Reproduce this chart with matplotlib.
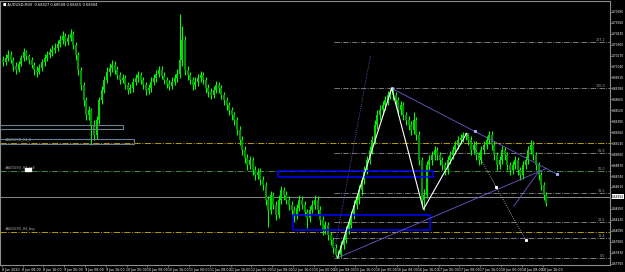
import numpy as np
import matplotlib.pyplot as plt
from matplotlib.patches import Rectangle

# ---- data (AUDUSD, one bar per hour, open = previous close) ----
closes = [
    0.7009, 0.7014, 0.7018, 0.7012, 0.7005, 0.7000, 0.7007, 0.7014, 0.7021, 0.7016,
    0.7012, 0.7006, 0.7000, 0.6998, 0.7002, 0.7009, 0.7014, 0.7018, 0.7021, 0.7024,
    0.7026, 0.7031, 0.7035, 0.7040, 0.7033, 0.7038, 0.7043, 0.7030, 0.7018, 0.7000,
    0.6982, 0.6964, 0.6946, 0.6952, 0.6935, 0.6923, 0.6940, 0.6964, 0.6976, 0.6988,
    0.6998, 0.7002, 0.7006, 0.7000, 0.6994, 0.6988, 0.6990, 0.6982, 0.6976, 0.6978,
    0.6986, 0.6990, 0.6994, 0.6988, 0.6982, 0.6976, 0.6978, 0.6986, 0.6990, 0.6995,
    0.7000, 0.6993, 0.6988, 0.6983, 0.6981, 0.6986, 0.6990, 0.6995, 0.7012, 0.7035,
    0.7000, 0.6994, 0.6988, 0.6982, 0.6986, 0.6990, 0.6994, 0.6988, 0.6978, 0.6974,
    0.6970, 0.6976, 0.6982, 0.6978, 0.6970, 0.6964, 0.6958, 0.6952, 0.6946, 0.6940,
    0.6929, 0.6917, 0.6905, 0.6895, 0.6887, 0.6893, 0.6881, 0.6875, 0.6879, 0.6869,
    0.6863, 0.6846, 0.6834, 0.6851, 0.6840, 0.6828, 0.6846, 0.6857, 0.6851, 0.6846,
    0.6840, 0.6834, 0.6828, 0.6836, 0.6846, 0.6840, 0.6831, 0.6824, 0.6834, 0.6840,
    0.6846, 0.6834, 0.6822, 0.6810, 0.6816, 0.6804, 0.6798, 0.6789, 0.6780, 0.6780,
    0.6792, 0.6798, 0.6810, 0.6816, 0.6828, 0.6840, 0.6846, 0.6857, 0.6869, 0.6881,
    0.6893, 0.6905, 0.6917, 0.6935, 0.6946, 0.6952, 0.6958, 0.6964, 0.6970, 0.6974,
    0.6970, 0.6964, 0.6952, 0.6958, 0.6946, 0.6940, 0.6935, 0.6929, 0.6940, 0.6923,
    0.6893, 0.6846, 0.6851, 0.6887, 0.6893, 0.6899, 0.6905, 0.6899, 0.6893, 0.6887,
    0.6881, 0.6893, 0.6899, 0.6905, 0.6911, 0.6917, 0.6919, 0.6923, 0.6925, 0.6917,
    0.6905, 0.6911, 0.6899, 0.6893, 0.6905, 0.6911, 0.6917, 0.6923, 0.6911, 0.6899,
    0.6887, 0.6893, 0.6905, 0.6899, 0.6887, 0.6881, 0.6887, 0.6893, 0.6881, 0.6875,
    0.6887, 0.6893, 0.6905, 0.6911, 0.6899, 0.6887, 0.6875, 0.6863, 0.6851, 0.6842,
]
highs = [
    0.7017, 0.7019, 0.7023, 0.7022, 0.7015, 0.7009, 0.7011, 0.7018, 0.7026, 0.7024,
    0.7019, 0.7015, 0.7009, 0.7004, 0.7007, 0.7013, 0.7019, 0.7022, 0.7026, 0.7029,
    0.7032, 0.7036, 0.7041, 0.7046, 0.7044, 0.7043, 0.7048, 0.7046, 0.7033, 0.7021,
    0.7003, 0.6986, 0.6968, 0.6957, 0.6955, 0.6940, 0.6945, 0.6968, 0.6981, 0.6993,
    0.7003, 0.7008, 0.7012, 0.7010, 0.7004, 0.6998, 0.6995, 0.6994, 0.6986, 0.6983,
    0.6990, 0.6995, 0.6999, 0.6998, 0.6992, 0.6986, 0.6983, 0.6991, 0.6995, 0.7000,
    0.7005, 0.7004, 0.6997, 0.6992, 0.6988, 0.6991, 0.6995, 0.7001, 0.7066, 0.7052,
    0.7040, 0.7004, 0.6998, 0.6992, 0.6991, 0.6995, 0.6999, 0.6998, 0.6992, 0.6983,
    0.6979, 0.6981, 0.6987, 0.6986, 0.6982, 0.6974, 0.6968, 0.6962, 0.6956, 0.6950,
    0.6944, 0.6933, 0.6921, 0.6910, 0.6900, 0.6898, 0.6897, 0.6886, 0.6884, 0.6883,
    0.6874, 0.6867, 0.6850, 0.6856, 0.6855, 0.6844, 0.6851, 0.6862, 0.6861, 0.6856,
    0.6850, 0.6844, 0.6838, 0.6841, 0.6851, 0.6850, 0.6844, 0.6835, 0.6839, 0.6845,
    0.6851, 0.6850, 0.6838, 0.6826, 0.6821, 0.6820, 0.6808, 0.6802, 0.6793, 0.6786,
    0.6797, 0.6803, 0.6815, 0.6821, 0.6833, 0.6845, 0.6852, 0.6863, 0.6874, 0.6886,
    0.6898, 0.6910, 0.6922, 0.6940, 0.6952, 0.6958, 0.6963, 0.6969, 0.6975, 0.6977,
    0.6978, 0.6974, 0.6968, 0.6963, 0.6962, 0.6950, 0.6945, 0.6939, 0.6950, 0.6944,
    0.6927, 0.6897, 0.6858, 0.6892, 0.6899, 0.6904, 0.6910, 0.6909, 0.6903, 0.6897,
    0.6891, 0.6898, 0.6904, 0.6910, 0.6916, 0.6922, 0.6924, 0.6926, 0.6925, 0.6925,
    0.6921, 0.6916, 0.6915, 0.6903, 0.6910, 0.6916, 0.6922, 0.6928, 0.6927, 0.6915,
    0.6903, 0.6898, 0.6910, 0.6909, 0.6903, 0.6891, 0.6892, 0.6898, 0.6897, 0.6885,
    0.6892, 0.6898, 0.6910, 0.6917, 0.6915, 0.6903, 0.6891, 0.6879, 0.6867, 0.6855,
]
lows = [
    0.7004, 0.7006, 0.7011, 0.7008, 0.6999, 0.6995, 0.6997, 0.7004, 0.7011, 0.7012,
    0.7007, 0.7002, 0.6994, 0.6992, 0.6995, 0.6999, 0.7005, 0.7010, 0.7014, 0.7017,
    0.7020, 0.7022, 0.7027, 0.7031, 0.7028, 0.7029, 0.7034, 0.7025, 0.7012, 0.6994,
    0.6976, 0.6957, 0.6940, 0.6940, 0.6911, 0.6917, 0.6918, 0.6936, 0.6960, 0.6972,
    0.6984, 0.6993, 0.6998, 0.6995, 0.6989, 0.6983, 0.6984, 0.6977, 0.6971, 0.6972,
    0.6974, 0.6982, 0.6986, 0.6983, 0.6977, 0.6970, 0.6971, 0.6974, 0.6982, 0.6986,
    0.6991, 0.6989, 0.6983, 0.6978, 0.6976, 0.6977, 0.6982, 0.6986, 0.6990, 0.7005,
    0.6994, 0.6988, 0.6983, 0.6976, 0.6977, 0.6981, 0.6986, 0.6983, 0.6973, 0.6968,
    0.6965, 0.6966, 0.6972, 0.6973, 0.6965, 0.6958, 0.6952, 0.6946, 0.6940, 0.6934,
    0.6923, 0.6911, 0.6899, 0.6889, 0.6881, 0.6882, 0.6875, 0.6869, 0.6870, 0.6863,
    0.6857, 0.6840, 0.6814, 0.6829, 0.6835, 0.6822, 0.6824, 0.6841, 0.6846, 0.6841,
    0.6834, 0.6828, 0.6820, 0.6823, 0.6832, 0.6835, 0.6826, 0.6812, 0.6820, 0.6830,
    0.6835, 0.6829, 0.6816, 0.6804, 0.6805, 0.6798, 0.6792, 0.6783, 0.6778, 0.6777,
    0.6778, 0.6787, 0.6794, 0.6805, 0.6812, 0.6823, 0.6835, 0.6841, 0.6852, 0.6864,
    0.6876, 0.6888, 0.6900, 0.6912, 0.6930, 0.6940, 0.6946, 0.6952, 0.6958, 0.6965,
    0.6964, 0.6958, 0.6946, 0.6947, 0.6940, 0.6934, 0.6929, 0.6923, 0.6924, 0.6917,
    0.6887, 0.6838, 0.6834, 0.6848, 0.6881, 0.6887, 0.6893, 0.6893, 0.6887, 0.6881,
    0.6875, 0.6876, 0.6888, 0.6894, 0.6900, 0.6906, 0.6912, 0.6914, 0.6917, 0.6911,
    0.6899, 0.6900, 0.6893, 0.6887, 0.6888, 0.6900, 0.6906, 0.6912, 0.6905, 0.6893,
    0.6881, 0.6882, 0.6888, 0.6893, 0.6881, 0.6875, 0.6876, 0.6882, 0.6875, 0.6869,
    0.6870, 0.6882, 0.6888, 0.6900, 0.6893, 0.6881, 0.6869, 0.6857, 0.6845, 0.6838,
]
first_open = 0.7012

price_ticks = [0.70690, 0.70560, 0.70430, 0.70300, 0.70170, 0.70040, 0.69910, 0.69780,
               0.69650, 0.69520, 0.69390, 0.69260, 0.69130, 0.69000, 0.68870, 0.68740,
               0.68610, 0.68480, 0.68350, 0.68220, 0.68090, 0.67960, 0.67830, 0.67700]
time_labels = ["8 Jun 2020", "8 Jun 08:00", "8 Jun 16:00",
               "9 Jun 00:00", "9 Jun 08:00", "9 Jun 16:00",
               "10 Jun 00:00", "10 Jun 08:00", "10 Jun 16:00",
               "11 Jun 00:00", "11 Jun 08:00", "11 Jun 16:00",
               "12 Jun 00:00", "12 Jun 08:00", "12 Jun 16:00",
               "15 Jun 00:00", "15 Jun 08:00", "15 Jun 16:00",
               "16 Jun 00:00", "16 Jun 08:00", "16 Jun 16:00",
               "17 Jun 00:00", "17 Jun 08:00", "17 Jun 16:00",
               "18 Jun 00:00", "18 Jun 08:00", "18 Jun 16:00"]
bars_per_label = 8

# zigzag swing points (bar, price) and projection
zz_bars = [128.7, 149.5, 161.7, 178.3]
zz_prices = [0.67770, 0.69781, 0.68344, 0.69247]
proj_bars = [178.3, 189.6, 201.0]
proj_prices = [0.69247, 0.68613, 0.67980]

# fibonacci levels and other horizontal objects
fib_prices = [0.70334, 0.69781, 0.69009, 0.68534, 0.68197, 0.68007, 0.67770]
fib_labels = ["127.2", "100.0", "61.8", "38.2", "23.6", "11.4", "0.0"]
fib_start = 127.4
yellow_levels = [0.69128, 0.68072]
green_level = 0.68796
bid = 0.68494

# ---- figure ----
W, H = 625, 272
X0, DX = 3.0, 2.6           # pixel of bar 0 and pixels per bar
TOP, BOT, RIGHT = 1, 265, 610


def px2bar(x):
    return (x - X0) / DX


fig = plt.figure(figsize=(W / 100, H / 100), dpi=100, facecolor='black')
ax = fig.add_axes([0, (H - BOT) / H, RIGHT / W, (BOT - TOP) / H])
ax.set_facecolor('black')
ax.set_xlim(px2bar(0), px2bar(RIGHT))
ax.set_ylim(0.67684, 0.70817)

# candles
c = np.array(closes)
o = np.concatenate([[first_open], c[:-1]])
hi = np.array(highs)
lo = np.array(lows)
idx = np.arange(len(c))
ax.vlines(idx, lo, hi, color='#00ff00', lw=0.8, zorder=3)
up = c >= o
ax.bar(idx[up], (c - o)[up], bottom=o[up], width=0.8, color='#00e000', lw=0, zorder=4)
ax.bar(idx[~up], (c - o)[~up], bottom=o[~up], width=0.8, color='#009400', lw=0, zorder=4)

# horizontal levels
xmax = px2bar(RIGHT)
for p, lab in zip(fib_prices, fib_labels):
    ax.plot([fib_start, xmax], [p, p], color='#8c8c8c', lw=0.6, ls='-.', zorder=2)
    ax.text(xmax - 2, p, lab, color='#a0a0a0', fontsize=2.4, ha='right', va='bottom')
for p in yellow_levels:
    ax.axhline(p, color='#b59a00', lw=0.7, ls='-.', zorder=2)
ax.axhline(green_level, color='#3c8c3c', lw=0.7, ls='-.', zorder=2)
ax.text(xmax - 2, green_level, "50.0", color='#a0a0a0', fontsize=2.4, ha='right', va='bottom')
ax.axhline(bid, color='#8a8a8a', lw=0.7, zorder=2)
for p, lab in [(yellow_levels[0], "#AUDUSD_H4_2"), (green_level, "#AUDUSD_H4_sell"),
               (yellow_levels[1], "#AUDUSD_H4_buy")]:
    ax.text(0.5, p + 0.0002, lab, color='#b0b0b0', fontsize=2.3, va='bottom')
ax.add_patch(Rectangle((px2bar(25), green_level + 0.00005), px2bar(31) - px2bar(25),
                       0.0003, color='white', zorder=5))

# rectangles
ax.add_patch(Rectangle((px2bar(0), 0.69298), px2bar(122.7) - px2bar(0), 0.00047,
                       fill=False, ec='#6e7f8c', lw=0.8, zorder=5))
ax.add_patch(Rectangle((px2bar(0), 0.69120), px2bar(134.3) - px2bar(0), 0.00055,
                       fill=False, ec='#6e7f8c', lw=0.8, zorder=5))
ax.add_patch(Rectangle((px2bar(278), 0.68725), px2bar(432.7) - px2bar(278), 0.00071,
                       fill=False, ec='#0000ff', lw=1.1, zorder=5))
ax.add_patch(Rectangle((px2bar(293.3), 0.68101), px2bar(430.3) - px2bar(293.3), 0.00173,
                       fill=False, ec='#0000ff', lw=1.1, zorder=5))

# trend lines
ax.plot([149.5, 213.0], [0.69781, 0.68764], color='#6a5acd', lw=0.6, zorder=6)
ax.plot([128.7, 209.1], [0.67770, 0.68831], color='#6a5acd', lw=0.6, zorder=6)
ax.plot([196.5, 206.5], [0.68384, 0.68811], color='#6a5acd', lw=0.6, zorder=6)
ax.plot([127.0, 141.4], [0.67782, 0.70180], color='#8a5ad0', lw=0.6, ls=':', zorder=6)
ax.plot([149.5, 181.6, 213.0], [0.69781, 0.69270, 0.68764], ls='none', marker='s',
        ms=1.2, color='#b0a8ff', zorder=7)

# zigzag and projection
ax.plot(zz_bars, zz_prices, color='white', lw=0.8, zorder=7)
ax.plot(proj_bars, proj_prices, color='#d0d0d0', lw=0.6, ls=':', zorder=7)
ax.plot(proj_bars[1:], proj_prices[1:], ls='none', marker='s', ms=1.2, color='white', zorder=7)

# axes styling
for s in ['left', 'top', 'right', 'bottom']:
    ax.spines[s].set_color('#8c8c8c')
    ax.spines[s].set_linewidth(0.8)
ax.yaxis.tick_right()
ax.set_yticks(price_ticks)
# the bid box hides the label that sits under it
ax.set_yticklabels(["" if abs(p - bid) < 0.0003 else f"{p:.5f}" for p in price_ticks])
ax.tick_params(axis='y', colors='#8c8c8c', labelcolor='white', labelsize=2.05,
               length=1.2, width=0.5, pad=0.4)
tick_bars = [k * bars_per_label - 0.5 for k in range(len(time_labels))]
ax.set_xticks(tick_bars)
ax.set_xticklabels(time_labels)
ax.tick_params(axis='x', colors='#8c8c8c', labelcolor='white', labelsize=2.3,
               length=1.5, width=0.5, pad=0.8)
for t in ax.get_xticklabels():
    t.set_horizontalalignment('left')

# bid label box
ax.text(1.003, bid, f"{bid:.5f}", transform=ax.get_yaxis_transform(), fontsize=2.05,
        color='black', va='center', ha='left',
        bbox=dict(boxstyle='square,pad=0.1', fc='white', ec='none'), clip_on=False)

# header
fig.text(3 / W, 1 - 4.5 / H, "\u25a0 AUDUSD,M30  0.68427 0.68508 0.68415 0.68494",
         color='white', fontsize=2.6, va='center', ha='left')

fig.savefig('out.png', dpi=100, facecolor='black')
